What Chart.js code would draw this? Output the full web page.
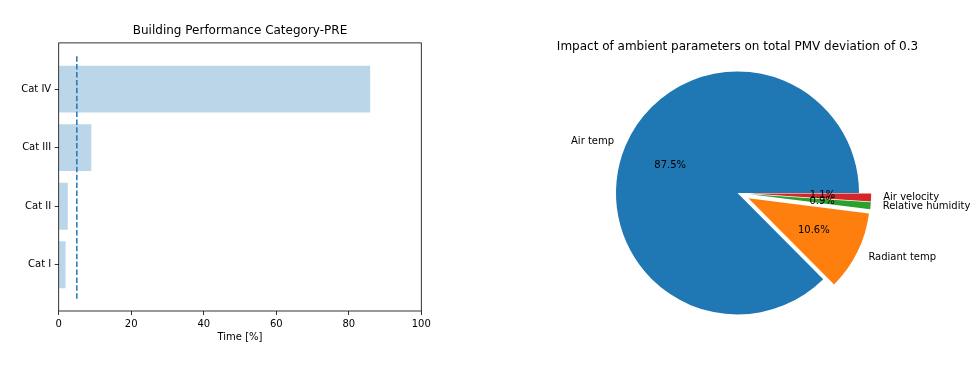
<!DOCTYPE html>
<html>
<head>
<meta charset="utf-8">
<script src="https://cdn.jsdelivr.net/npm/chart.js@4"></script>
<style>
  body { margin: 0; background: #fff; }
  .box { position: absolute; top: 0; height: 366px; width: 485px; }
</style>
</head>
<body>
<div class="box" style="left:0"><canvas id="barChart"></canvas></div>
<div class="box" style="left:485px"><canvas id="pieChart"></canvas></div>
<script>
// left chart data
const catLabels = ['Cat I', 'Cat II', 'Cat III', 'Cat IV'];
const catValues = [1.9, 2.5, 9.0, 85.9];
const threshold = 5;
const thresholdSpan = [-0.58, 3.58];

// right chart data (matplotlib order, counter-clockwise from 3 o'clock)
const pieLabels = ['Air temp', 'Radiant temp', 'Relative humidity', 'Air velocity'];
const pieShares = [87.46, 10.56, 0.92, 1.06];
const pieColors = ['#1f77b4', '#ff7f0e', '#2ca02c', '#d62728'];
const pieExplode = [0, 0.1, 0.1, 0.1];

Chart.defaults.font.family = '"DejaVu Sans", sans-serif';
Chart.defaults.font.size = 10;
Chart.defaults.color = '#000';

// box around the plot area, like matplotlib spines
const frame = {
    id: 'frame',
    afterDatasetsDraw(chart) {
        const a = chart.chartArea, ctx = chart.ctx;
        ctx.save();
        ctx.strokeStyle = '#000';
        ctx.lineWidth = 0.8;
        ctx.strokeRect(a.left, a.top, a.right - a.left, a.bottom - a.top);
        ctx.restore();
    }
};

new Chart(document.getElementById('barChart'), {
    type: 'bar',
    data: {
        datasets: [
            {
                type: 'line',
                data: thresholdSpan.map(v => ({ x: threshold, y: v })),
                borderColor: '#1f77b4',
                borderWidth: 1.5,
                borderDash: [5.5, 2.4],
                pointRadius: 0,
                order: 0
            },
            {
                type: 'bar',
                data: catValues.map((v, i) => ({ x: v, y: i })),
                backgroundColor: 'rgba(31,119,180,0.3)',
                borderWidth: 0,
                barPercentage: 0.8,
                categoryPercentage: 1,
                order: 1
            }
        ]
    },
    options: {
        indexAxis: 'y',
        responsive: true,
        maintainAspectRatio: false,
        animation: false,
        layout: { padding: { left: 0, right: 63.7, top: 0, bottom: 0 } },
        plugins: {
            legend: { display: false },
            tooltip: { enabled: false },
            title: {
                display: true,
                text: 'Building Performance Category-PRE',
                fullSize: false,
                font: { size: 12, weight: 'normal' },
                padding: { top: 23.5, bottom: 5 }
            }
        },
        scales: {
            x: {
                type: 'linear',
                min: 0,
                max: 100,
                offset: false,
                ticks: { stepSize: 20, padding: 3.5 },
                grid: { drawOnChartArea: false, offset: false, tickLength: 4, color: '#000', lineWidth: 0.8 },
                border: { display: false },
                title: { display: true, text: 'Time [%]', padding: { top: 0, bottom: 22.5 } },
                afterFit: s => { s.height = 55; }
            },
            y: {
                type: 'linear',
                min: -0.79,
                max: 3.79,
                offset: false,
                afterBuildTicks: s => { s.ticks = catLabels.map((c, i) => ({ value: i })); },
                ticks: { callback: v => catLabels[v], padding: 3.5 },
                grid: { drawOnChartArea: false, offset: false, tickLength: 4, color: '#000', lineWidth: 0.8 },
                border: { display: false },
                afterFit: s => { s.width = 58.7; }
            }
        }
    },
    plugins: [frame]
});

// Chart.js goes clockwise, matplotlib counter-clockwise: reverse the order
const PIE_R = 121.5;
const order = pieLabels.map((_, i) => pieLabels.length - 1 - i);
const total = pieShares.reduce((a, b) => a + b, 0);

const pieText = {
    id: 'pieText',
    afterDatasetUpdate(chart, args) {
        // explode: move the wedge centre out along its middle angle, radius unchanged
        const R = args.meta.controller.outerRadius;
        args.meta.data.forEach((arc, i) => {
            const e = pieExplode[order[i]];
            const mid = (arc.startAngle + arc.endAngle) / 2;
            arc.x += e * R * Math.cos(mid);
            arc.y += e * R * Math.sin(mid);
        });
    },
    afterDatasetsDraw(chart) {
        const meta = chart.getDatasetMeta(0);
        const R = meta.controller.outerRadius;
        const ctx = chart.ctx;
        ctx.save();
        ctx.font = '10px "DejaVu Sans"';
        ctx.fillStyle = '#000';
        ctx.textBaseline = 'middle';
        meta.data.forEach((arc, i) => {
            const k = order[i];
            const mid = (arc.startAngle + arc.endAngle) / 2;
            const c = Math.cos(mid), s = Math.sin(mid);
            ctx.textAlign = c > 0 ? 'left' : 'right';
            ctx.fillText(pieLabels[k], arc.x + 1.1 * R * c, arc.y + 1.1 * R * s);
            ctx.textAlign = 'center';
            const pct = (pieShares[k] / total * 100).toFixed(1) + '%';
            ctx.fillText(pct, arc.x + 0.6 * R * c, arc.y + 0.6 * R * s);
        });
        ctx.restore();
    }
};

new Chart(document.getElementById('pieChart'), {
    type: 'pie',
    data: {
        labels: order.map(k => pieLabels[k]),
        datasets: [{
            data: order.map(k => pieShares[k]),
            backgroundColor: order.map(k => pieColors[k]),
            borderWidth: 0
        }]
    },
    options: {
        responsive: true,
        maintainAspectRatio: false,
        animation: false,
        rotation: 90,
        radius: PIE_R,
        layout: { padding: { left: 20, right: 0, top: 0, bottom: 39.2 } },
        plugins: {
            legend: { display: false },
            tooltip: { enabled: false },
            title: {
                display: true,
                text: 'Impact of ambient parameters on total PMV deviation of 0.3',
                font: { size: 12, weight: 'normal' },
                padding: { top: 39.8, bottom: 5 }
            }
        }
    },
    plugins: [pieText]
});
</script>
</body>
</html>
